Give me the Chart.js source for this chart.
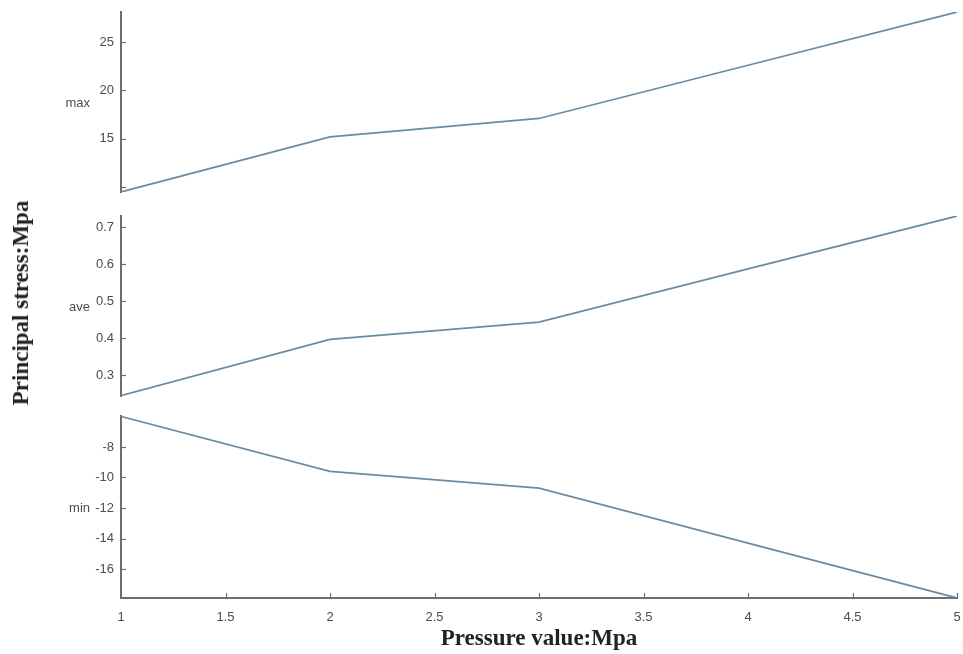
<!DOCTYPE html>
<html>
<head>
<meta charset="utf-8">
<script src="https://cdn.jsdelivr.net/npm/chart.js@4/dist/chart.umd.min.js"></script>
<style>
  html, body { margin: 0; padding: 0; background: #fff; }
  #wrap { position: relative; width: 963px; height: 654px; overflow: hidden; }
  canvas { position: absolute; left: 0; }
  #ytitle {
    position: absolute; left: 21px; top: 303px;
    transform: translate(-50%, -50%) rotate(-90deg);
    white-space: nowrap;
    font: bold 23px "Liberation Serif", "DejaVu Serif", serif;
    color: #222;
  }
</style>
</head>
<body>
<div id="wrap">
  <canvas id="maxChart" width="963" height="200" style="top:0px"></canvas>
  <canvas id="aveChart" width="963" height="206" style="top:200px"></canvas>
  <canvas id="minChart" width="963" height="248" style="top:406px"></canvas>
  <div id="ytitle">Principal stress:Mpa</div>
</div>
<script>
// data
const pressure = [1, 2, 3, 4, 5];
const maxStress = [9.5, 15.2, 17.1, 22.6, 28.1];
const aveStress = [0.244, 0.396, 0.443, 0.587, 0.73];
const minStress = [-6.0, -9.6, -10.7, -14.3, -17.9];

const xTicks = [1, 1.5, 2, 2.5, 3, 3.5, 4, 4.5, 5];
const maxTicks = [10, 15, 20, 25];
const maxTickLabels = ["", "15", "20", "25"];
const aveTicks = [0.3, 0.4, 0.5, 0.6, 0.7];
const minTicks = [-16, -14, -12, -10, -8];

const axisColor = "#6e6e6e";
const lineColor = "#6a8ca0";
const tickFont = { family: "Liberation Sans, Arial, sans-serif", size: 13 };
const tickColor = "#4d4d4d";

// MATLAB style ticks point into the plot, plus the panel name left of the axis
const innerTicks = {
  id: "innerTicks",
  afterDraw(chart, args, opts) {
    const ctx = chart.ctx;
    const { left, top, bottom } = chart.chartArea;
    ctx.save();
    ctx.strokeStyle = axisColor;
    ctx.lineWidth = 1.2;
    const ys = chart.scales.y;
    ys.ticks.forEach((t) => {
      const py = Math.round(ys.getPixelForValue(t.value)) + 0.5;
      ctx.beginPath();
      ctx.moveTo(left, py);
      ctx.lineTo(left + 5, py);
      ctx.stroke();
    });
    const xs = chart.scales.x;
    if (xs.options.display) {
      xs.ticks.forEach((t) => {
        const px = Math.round(xs.getPixelForValue(t.value)) + 0.5;
        ctx.beginPath();
        ctx.moveTo(px, bottom);
        ctx.lineTo(px, bottom - 5);
        ctx.stroke();
      });
    }
    if (opts.label) {
      ctx.fillStyle = tickColor;
      ctx.font = "13px Liberation Sans, Arial, sans-serif";
      ctx.textAlign = "right";
      ctx.textBaseline = "middle";
      ctx.fillText(opts.label, 90, (top + bottom) / 2 + 1);
    }
    ctx.restore();
  },
};

function makePanel(id, values, yMin, yMax, yTicks, yLabels, label, padding, showX) {
  const ctx = document.getElementById(id).getContext("2d");
  return new Chart(ctx, {
    type: "line",
    data: {
      datasets: [
        {
          data: pressure.map((p, i) => ({ x: p, y: values[i] })),
          borderColor: lineColor,
          borderWidth: 1.7,
          pointRadius: 0,
          tension: 0,
          fill: false,
        },
      ],
    },
    options: {
      responsive: false,
      animation: false,
      devicePixelRatio: 1,
      layout: { padding: padding },
      plugins: {
        legend: { display: false },
        tooltip: { enabled: false },
        innerTicks: { label: label },
      },
      scales: {
        x: {
          type: "linear",
          min: 1,
          max: 5,
          display: showX,
          afterBuildTicks: (scale) => {
            scale.ticks = xTicks.map((v) => ({ value: v }));
          },
          afterFit: (scale) => {
            if (showX) scale.height = 56;
            scale.paddingLeft = 0;
            scale.paddingRight = 0;
          },
          grid: { drawOnChartArea: false, drawTicks: false },
          border: { display: true, color: axisColor, width: 2 },
          ticks: {
            autoSkip: false,
            maxRotation: 0,
            padding: 12,
            font: tickFont,
            color: tickColor,
            callback: (v) => String(v),
          },
          title: {
            display: true,
            text: "Pressure value:Mpa",
            font: { family: "Liberation Serif, serif", size: 23, weight: "bold" },
            color: "#222",
            padding: { top: 0, bottom: 1 },
          },
        },
        y: {
          type: "linear",
          min: yMin,
          max: yMax,
          afterBuildTicks: (scale) => {
            scale.ticks = yTicks.map((v) => ({ value: v }));
          },
          afterFit: (scale) => {
            scale.width = 121;
            scale.paddingTop = 0;
            scale.paddingBottom = 0;
          },
          grid: { drawOnChartArea: false, drawTicks: false },
          border: { display: true, color: axisColor, width: 2 },
          ticks: {
            padding: 7,
            font: tickFont,
            color: tickColor,
            callback: (v, i) => yLabels[i],
          },
        },
      },
    },
    plugins: [innerTicks],
  });
}

makePanel("maxChart", maxStress, 9.5, 28.1, maxTicks, maxTickLabels, "max",
  { top: 12, bottom: 8, left: 0, right: 6 }, false);
makePanel("aveChart", aveStress, 0.243, 0.73, aveTicks, aveTicks.map(String), "ave",
  { top: 16, bottom: 10, left: 0, right: 6 }, false);
makePanel("minChart", minStress, -17.9, -5.97, minTicks, minTicks.map(String), "min",
  { top: 10, bottom: 0, left: 0, right: 6 }, true);
</script>
</body>
</html>
